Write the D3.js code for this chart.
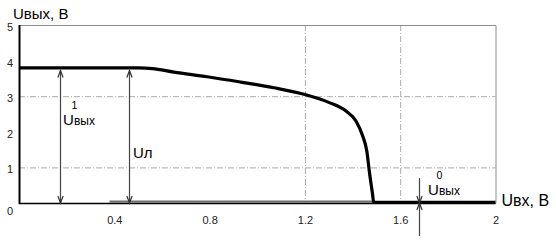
<!DOCTYPE html>
<html>
<head>
<meta charset="utf-8">
<script src="https://cdn.jsdelivr.net/npm/d3@7"></script>
<style>
  body { margin: 0; background: #fff; }
  svg { display: block; font-family: "Liberation Sans", Arial, sans-serif; }
</style>
</head>
<body>
<div id="chart"></div>
<script>
// transfer characteristic
var uIn  = [0, 0.1, 0.2, 0.3, 0.4, 0.5, 0.56, 0.65, 0.79, 0.93, 1.07, 1.2, 1.3, 1.374, 1.415, 1.443, 1.46, 1.471, 1.483, 1.489, 1.6, 1.8, 2.0];
var uOut = [3.78, 3.78, 3.78, 3.78, 3.78, 3.78, 3.76, 3.66, 3.53, 3.38, 3.22, 3.03, 2.81, 2.56, 2.28, 1.86, 1.44, 0.84, 0.28, 0, 0, 0, 0];

// grey segment lying on the axis
var baseIn  = [0.38, 1.49];
var baseOut = [0, 0];

var xTicks = [0.4, 0.8, 1.2, 1.6, 2];
var yTicks = [0, 1, 2, 3, 4, 5];
var gridX = [1.2, 1.6];
var gridY = [1, 3];

// annotation arrows: x position, from, to
var arrowX    = [0.172, 0.462, 1.68, 1.68];
var arrowFrom = [0, 0, 0.70, -0.93];
var arrowTo   = [3.78, 3.78, 0, 0];
var arrowBoth = [true, true, false, false];

// annotation labels
var labelMain = ["U", "U", "U"];
var labelSub  = ["вых", "л", "вых"];
var labelSup  = ["1", "", "0"];
var labelX    = [0.185, 0.478, 1.717];
var labelY    = [2.19, 1.26, 0.22];

var width = 556, height = 242;
var margin = { top: 25, right: 60.5, bottom: 39, left: 19 };

var x = d3.scaleLinear().domain([0, 2]).range([margin.left, width - margin.right]);
var y = d3.scaleLinear().domain([0, 5]).range([height - margin.bottom, margin.top]);

var svg = d3.select("#chart").append("svg")
    .attr("width", width)
    .attr("height", height);

svg.append("defs").append("marker")
    .attr("id", "head")
    .attr("markerUnits", "userSpaceOnUse")
    .attr("viewBox", "-10 -5 12 10")
    .attr("markerWidth", 12)
    .attr("markerHeight", 10)
    .attr("refX", 0)
    .attr("refY", 0)
    .attr("orient", "auto-start-reverse")
    .append("path")
    .attr("d", "M-7,-2.6L0,0L-7,2.6")
    .style("fill", "none")
    .style("stroke", "#333")
    .style("stroke-width", 1.2);

// grid (dash-dot)
svg.selectAll(".gy").data(gridY).enter().append("line")
    .attr("x1", x(0)).attr("x2", x(2))
    .attr("y1", function (d) { return y(d) + 0.5; })
    .attr("y2", function (d) { return y(d) + 0.5; })
    .style("stroke", "#aaa").style("stroke-dasharray", "6,2,1,2");

svg.selectAll(".gx").data(gridX).enter().append("line")
    .attr("y1", y(5)).attr("y2", y(0))
    .attr("x1", function (d) { return x(d) + 0.5; })
    .attr("x2", function (d) { return x(d) + 0.5; })
    .style("stroke", "#aaa").style("stroke-dasharray", "6,2,1,2");

// frame: grey top / right, black axes
svg.append("path")
    .attr("d", "M" + x(0) + "," + (y(5) + 0.5) + "H" + (x(2) + 0.5) + "V" + y(0))
    .style("fill", "none").style("stroke", "#8c8c8c");

svg.append("line")
    .attr("x1", x(0)).attr("x2", x(2))
    .attr("y1", y(0) + 0.5).attr("y2", y(0) + 0.5)
    .style("stroke", "#000").style("stroke-width", 1.4);

svg.append("line")
    .attr("x1", x(0) + 0.5).attr("x2", x(0) + 0.5)
    .attr("y1", y(5)).attr("y2", y(0) + 1)
    .style("stroke", "#000").style("stroke-width", 2);

// axes labels
var yAxis = svg.append("g")
    .attr("transform", "translate(" + x(0) + ",0)")
    .call(d3.axisLeft(y).tickValues(yTicks).tickSize(0).tickPadding(6).tickFormat(d3.format("d")));
yAxis.select(".domain").remove();
yAxis.selectAll("text")
    .attr("dy", function (d) { return d === 0 ? "1.05em" : "0.5em"; })
    .style("font-size", "11px").style("fill", "#222");

var xAxis = svg.append("g")
    .attr("transform", "translate(0," + y(0) + ")")
    .call(d3.axisBottom(x).tickValues(xTicks).tickSize(0).tickPadding(13).tickFormat(function (d) { return d; }));
xAxis.select(".domain").remove();
xAxis.selectAll("text")
    .style("font-size", "11px").style("fill", "#222");

// curves
var line = d3.line()
    .x(function (d) { return x(d[0]); })
    .y(function (d) { return y(d[1]); });

svg.append("path")
    .attr("d", line(d3.zip(baseIn, baseOut)))
    .attr("transform", "translate(0,-1.3)")
    .style("fill", "none").style("stroke", "#6e6e6e").style("stroke-width", 2.2);

svg.append("path")
    .attr("d", line.curve(d3.curveMonotoneX)(d3.zip(uIn, uOut)))
    .attr("transform", "translate(0,-0.6)")
    .style("fill", "none").style("stroke", "#000").style("stroke-width", 3.2)
    .style("stroke-linejoin", "round");

// arrows
svg.selectAll(".arrow").data(d3.range(arrowX.length)).enter().append("line")
    .attr("x1", function (i) { return Math.round(x(arrowX[i])) + 0.5; })
    .attr("x2", function (i) { return Math.round(x(arrowX[i])) + 0.5; })
    .attr("y1", function (i) { return y(arrowFrom[i]); })
    .attr("y2", function (i) { return y(arrowTo[i]) + (arrowTo[i] > 0 ? 2 : 0); })
    .attr("marker-end", "url(#head)")
    .attr("marker-start", function (i) { return arrowBoth[i] ? "url(#head)" : null; })
    .style("stroke", "#444").style("stroke-width", 1.2);

// annotation labels
var lab = svg.selectAll(".lab").data(d3.range(labelMain.length)).enter().append("text")
    .attr("x", function (i) { return x(labelX[i]); })
    .attr("y", function (i) { return y(labelY[i]); })
    .style("fill", "#000");
lab.append("tspan").style("font-size", "15px").text(function (i) { return labelMain[i]; });
lab.append("tspan")
    .style("font-size", function (i) { return labelSup[i] ? "12px" : "15px"; })
    .text(function (i) { return labelSub[i]; });

// superscripts as their own texts, above the subscript
svg.selectAll(".sup").data(d3.range(labelMain.length).filter(function (i) { return labelSup[i]; }))
    .enter().append("text")
    .attr("x", function (i) { return x(labelX[i]) + 8.5; })
    .attr("y", function (i) { return y(labelY[i]) - 16; })
    .style("font-size", "10.5px")
    .text(function (i) { return labelSup[i]; });

// axis titles
svg.append("text")
    .attr("x", 13).attr("y", 18.5)
    .style("font-size", "15px")
    .text("Uвых, В");

svg.append("text")
    .attr("x", x(2) + 6).attr("y", y(0) + 2.5)
    .style("font-size", "16px")
    .text("Uвх, В");
</script>
</body>
</html>
